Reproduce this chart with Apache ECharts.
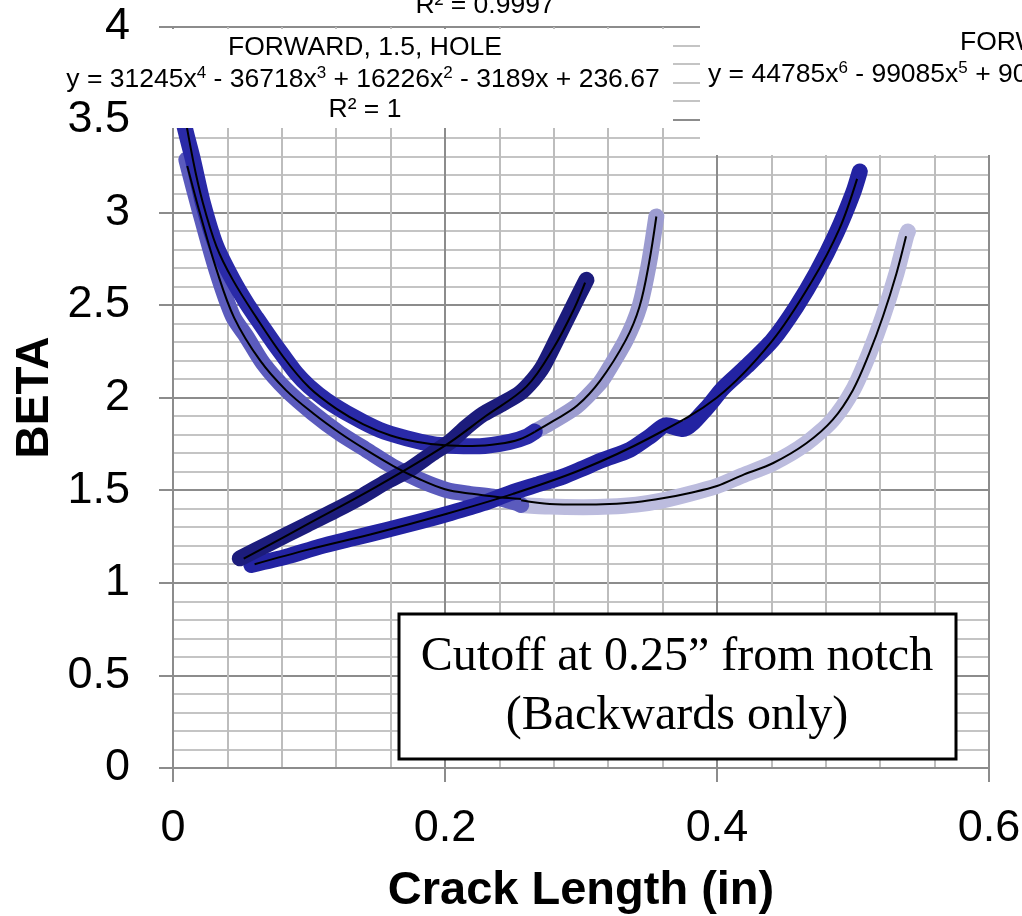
<!DOCTYPE html>
<html><head><meta charset="utf-8">
<script src="https://cdn.jsdelivr.net/npm/echarts@6/dist/echarts.min.js"></script>
<style>html,body{margin:0;padding:0;background:#fff}#c{width:1022px;height:916px}</style>
</head><body><div id="c"></div>
<script>
// ---- data ----
const xTicks = [0, 0.2, 0.4, 0.6];
const yTicks = [0, 0.5, 1, 1.5, 2, 2.5, 3, 3.5, 4];

const backHole = [[0.004,3.72],[0.0074,3.50],[0.0147,3.283],[0.022,3.05],[0.0319,2.815],[0.044,2.635],[0.054,2.51],[0.0613,2.43],[0.0735,2.30],[0.081,2.225],[0.0907,2.13],[0.1,2.06],[0.1128,1.985],[0.1324,1.897],[0.152,1.825],[0.1716,1.78],[0.191,1.748],[0.2035,1.74],[0.2255,1.737],[0.2476,1.76],[0.26,1.789],[0.266,1.816]];
const fwdHole = [[0.266,1.816],[0.277,1.861],[0.2966,1.951],[0.3137,2.077],[0.3187,2.131],[0.333,2.311],[0.343,2.49],[0.350,2.725],[0.3554,2.977]];
const backB = [[0.0098,3.283],[0.0196,3.01],[0.0319,2.689],[0.0441,2.437],[0.054,2.329],[0.0662,2.185],[0.0834,2.041],[0.103,1.915],[0.1226,1.807],[0.1422,1.717],[0.1618,1.627],[0.1814,1.555],[0.201,1.501],[0.218,1.48],[0.235,1.465],[0.2525,1.432],[0.256,1.42]];
const fwdB = [[0.256,1.42],[0.277,1.411],[0.3015,1.408],[0.321,1.411],[0.3407,1.422],[0.3603,1.445],[0.38,1.48],[0.4,1.522],[0.4167,1.573],[0.441,1.645],[0.4657,1.753],[0.485,1.879],[0.50,2.041],[0.512,2.239],[0.522,2.437],[0.532,2.671],[0.539,2.869],[0.5404,2.896]];
const seriesC = [[0.0491,1.132],[0.0711,1.213],[0.0956,1.303],[0.1201,1.393],[0.1397,1.47],[0.157,1.546],[0.174,1.612],[0.191,1.699],[0.2035,1.76],[0.2157,1.84],[0.228,1.91],[0.2426,1.969],[0.255,2.023],[0.2647,2.095],[0.272,2.167],[0.282,2.311],[0.2917,2.455],[0.299,2.563],[0.304,2.635]];
const seriesD = [[0.0576,1.096],[0.0834,1.141],[0.1079,1.195],[0.1324,1.24],[0.157,1.285],[0.1814,1.33],[0.2035,1.375],[0.228,1.429],[0.2476,1.483],[0.267,1.528],[0.2868,1.573],[0.3015,1.618],[0.316,1.663],[0.3358,1.717],[0.3505,1.789],[0.3628,1.85],[0.375,1.83],[0.392,1.94],[0.4044,2.05],[0.4216,2.167],[0.441,2.311],[0.4584,2.491],[0.473,2.671],[0.4878,2.887],[0.50,3.103],[0.505,3.22]];

const trendBackHole = [[0.004,3.72],[0.0147,3.283],[0.022,3.05],[0.032,2.815],[0.044,2.635],[0.061,2.435],[0.081,2.22],[0.1,2.055],[0.12,1.94],[0.14,1.855],[0.16,1.795],[0.18,1.76],[0.2,1.742],[0.22,1.738],[0.24,1.75],[0.255,1.775],[0.266,1.815]];
const trendFwdHole = [[0.266,1.815],[0.28,1.875],[0.297,1.955],[0.314,2.09],[0.333,2.311],[0.343,2.49],[0.35,2.725],[0.3554,2.977]];
const trendBackB = [[0.0105,3.25],[0.0196,3.0],[0.032,2.69],[0.045,2.43],[0.064,2.2],[0.083,2.04],[0.103,1.915],[0.123,1.807],[0.142,1.717],[0.162,1.63],[0.181,1.56],[0.2,1.505],[0.22,1.48],[0.24,1.462],[0.256,1.452]];
const trendFwdB = [[0.256,1.445],[0.277,1.425],[0.3,1.422],[0.321,1.425],[0.34,1.435],[0.36,1.456],[0.38,1.485],[0.4,1.522],[0.42,1.585],[0.441,1.645],[0.4657,1.753],[0.485,1.879],[0.5,2.041],[0.512,2.239],[0.522,2.437],[0.532,2.671],[0.539,2.87]];
const trendC = [[0.052,1.13],[0.1,1.32],[0.15,1.52],[0.2,1.74],[0.23,1.9],[0.26,2.06],[0.28,2.27],[0.295,2.48],[0.303,2.62]];
const trendD = [[0.06,1.1],[0.1,1.18],[0.15,1.27],[0.2,1.37],[0.25,1.48],[0.3,1.61],[0.35,1.78],[0.4,2.0],[0.44,2.3],[0.47,2.63],[0.49,2.91],[0.503,3.18]];

const eqLabels = {
  topR2: 'R² = 0.9997',
  holeName: 'FORWARD, 1.5, HOLE',
  holeEq: 'y = 31245x{s|4} - 36718x{s|3} + 16226x{s|2} - 3189x + 236.67',
  holeR2: 'R² = 1',
  rightName: 'FORWARD',
  rightEq: 'y = 44785x{s|6} - 99085x{s|5} + 90'
};
const noteLines = ['Cutoff at 0.25” from notch', '(Backwards only)'];

// ---- chart ----
const chart = echarts.init(document.getElementById('c'), null, {renderer: 'canvas'});
const SANS = '"Liberation Sans", Arial, sans-serif';
const SERIF = '"Liberation Serif", "Times New Roman", serif';
const LBL = 26.5;

function dataLine(name, data, color, z) {
  return {name, type: 'line', data, showSymbol: false, symbol: 'none', smooth: 0.25,
    lineStyle: {color, width: 16, cap: 'round', join: 'round'}, z, silent: true, animation: false};
}
function trendLine(name, data) {
  return {name, type: 'line', data, showSymbol: false, symbol: 'none', smooth: 0.35,
    lineStyle: {color: '#000', width: 2}, z: 10, silent: true, animation: false};
}
function lbl(text, x, y, align) {
  return {type: 'text', z: 101, x, y, style: {text, fontFamily: SANS, fontSize: LBL, fill: '#000',
    align: align || 'center', verticalAlign: 'middle',
    rich: {s: {fontFamily: SANS, fontSize: 17, fill: '#000', verticalAlign: 'top', lineHeight: 30}}}};
}

const option = {
  animation: false,
  backgroundColor: '#fff',
  grid: {left: 173, right: 33, top: 27, bottom: 148, outerBoundsMode: 'none', containLabel: false},
  xAxis: {
    type: 'value', min: xTicks[0], max: xTicks[xTicks.length-1], interval: 0.2,
    name: 'Crack Length (in)', nameLocation: 'middle', nameGap: 100, nameMoveOverlap: false,
    nameTextStyle: {fontFamily: SANS, fontWeight: 'bold', fontSize: 47, color: '#000'},
    axisLine: {show: true, onZero: false, lineStyle: {color: '#8c8c8c', width: 2}},
    axisTick: {show: true, length: 14, lineStyle: {color: '#8c8c8c', width: 2}},
    axisLabel: {fontFamily: SANS, fontSize: 45, color: '#000', margin: 38,
      formatter: v => String(Math.round(v*10)/10)},
    splitLine: {show: true, lineStyle: {color: '#8c8c8c', width: 2}},
    minorTick: {show: false, splitNumber: 5},
    minorSplitLine: {show: true, lineStyle: {color: '#bdbdbd', width: 2}}
  },
  yAxis: {
    type: 'value', min: yTicks[0], max: yTicks[yTicks.length-1], interval: 0.5,
    name: 'BETA', nameLocation: 'middle', nameGap: 115, nameMoveOverlap: false,
    nameTextStyle: {fontFamily: SANS, fontWeight: 'bold', fontSize: 46, color: '#000'},
    axisLine: {show: true, onZero: false, lineStyle: {color: '#8c8c8c', width: 2}},
    axisTick: {show: true, length: 14, lineStyle: {color: '#8c8c8c', width: 2}},
    axisLabel: {fontFamily: SANS, fontSize: 45, color: '#000', margin: 43},
    splitLine: {show: true, lineStyle: {color: '#8c8c8c', width: 2}},
    minorTick: {show: false, splitNumber: 5},
    minorSplitLine: {show: true, lineStyle: {color: '#c4c4c4', width: 2}}
  },
  series: [
    dataLine('FORWARD B', fwdB, '#bcbcde', 2),
    dataLine('FORWARD, 1.5, HOLE', fwdHole, '#9c9cd0', 2),
    dataLine('BACKWARD B', backB, '#5b5bbd', 3),
    dataLine('BACKWARD, HOLE', backHole, '#2a2aa8', 4),
    dataLine('D', seriesD, '#2323a2', 5),
    dataLine('C', seriesC, '#1c1c7c', 6),
    trendLine('t1', trendFwdB), trendLine('t2', trendFwdHole), trendLine('t3', trendBackB),
    trendLine('t4', trendBackHole), trendLine('t5', trendD), trendLine('t6', trendC)
  ],
  graphic: [
    {type: 'rect', z: 100, shape: {x: 156, y: 29, width: 517, height: 99}, style: {fill: '#fff'}},
    {type: 'rect', z: 100, shape: {x: 700, y: 0, width: 322, height: 155}, style: {fill: '#fff'}},
    lbl(eqLabels.topR2, 485, 6),
    lbl(eqLabels.holeName, 365, 48),
    lbl(eqLabels.holeEq, 363, 80),
    lbl(eqLabels.holeR2, 365, 110),
    lbl(eqLabels.rightName, 960, 43, 'left'),
    lbl(eqLabels.rightEq, 708, 75, 'left'),
    {type: 'rect', z: 100, shape: {x: 399, y: 614, width: 557, height: 145}, style: {fill: '#fff', stroke: '#000', lineWidth: 3}},
    {type: 'text', z: 101, x: 677, y: 657, style: {text: noteLines[0], fontFamily: SERIF, fontSize: 48, fill: '#000', align: 'center', verticalAlign: 'middle'}},
    {type: 'text', z: 101, x: 677, y: 716, style: {text: noteLines[1], fontFamily: SERIF, fontSize: 48, fill: '#000', align: 'center', verticalAlign: 'middle'}}
  ]
};
chart.setOption(option);
</script></body></html>
